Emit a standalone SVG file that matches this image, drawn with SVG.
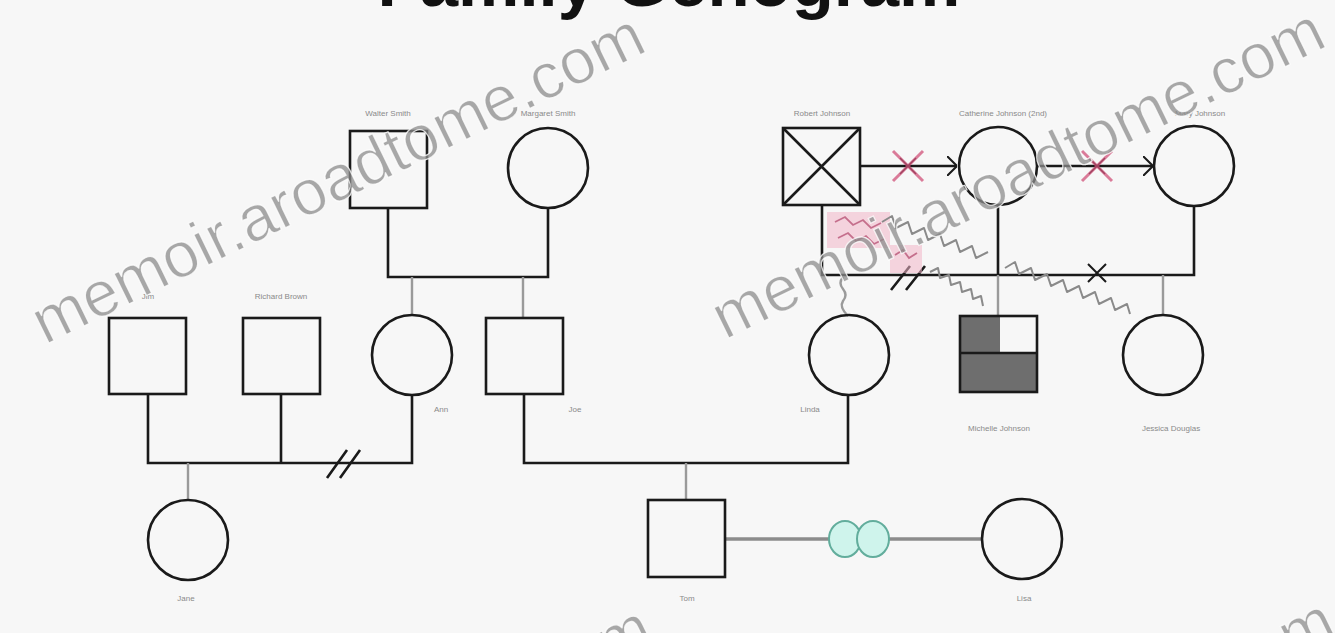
<svg xmlns="http://www.w3.org/2000/svg" width="1335" height="633" viewBox="0 0 1335 633">
  <defs>
    <style>
      .node { fill: none; stroke: #1a1a1a; stroke-width: 2.6; }
      .rel { fill: none; stroke: #1a1a1a; stroke-width: 2.6; }
      .child { fill: none; stroke: #9a9a9a; stroke-width: 2.4; }
      .hostile { fill: none; stroke: #8a8a8a; stroke-width: 2; stroke-linejoin: round; }
      .cut { fill: none; stroke: #d0527a; stroke-width: 3; stroke-opacity: 0.75; }
      .lbl { font-family: "Liberation Sans", Arial, sans-serif; font-size: 8px; fill: #8a8a8a; text-anchor: middle; }
      .title { font-family: "Liberation Sans", Arial, sans-serif; font-size: 69px; font-weight: bold; fill: #111; text-anchor: middle; }
      .wm { font-family: "Liberation Sans", Arial, sans-serif; font-size: 64px; fill: #8c8c8c; fill-opacity: 0.75; stroke: #ffffff; stroke-width: 1.2; stroke-opacity: 0.8; }
    </style>
    <marker id="chev" viewBox="0 0 10 20" refX="10" refY="10" markerWidth="10" markerHeight="20" markerUnits="userSpaceOnUse" orient="auto">
      <path d="M0,0 L10,10 L0,20" fill="none" stroke="#1a1a1a" stroke-width="2"/>
    </marker>
  </defs>

  <rect width="1335" height="633" fill="#f7f7f7"/>

  <!-- title, mostly above the top edge -->
  <text class="title" x="669" y="6">Family Genogram</text>

  <!-- connectors -->
  <g id="connectors">
    <!-- grandparents (left) -->
    <path class="rel" d="M388,208 V277 H548 V208"/>
    <path class="child" d="M412,277 V316 M523,277 V318"/>

    <!-- left couple with divorce -->
    <path class="rel" d="M148,394 V463 H412 V395 M281,394 V463"/>
    <path class="rel" d="M327,478 L347,450 M340,478 L360,450"/>
    <path class="child" d="M188,463 V500"/>

    <!-- parents of Tom -->
    <path class="rel" d="M524,394 V463 H848 V394"/>
    <path class="child" d="M686,463 V500"/>

    <!-- Tom and Lisa -->
    <path d="M725,539 H982" stroke="#8c8c8c" stroke-width="3.4" fill="none"/>
    <ellipse cx="845" cy="539" rx="16" ry="18" fill="#cff4ec" stroke="#62ad9c" stroke-width="2"/>
    <ellipse cx="873" cy="539" rx="16" ry="18" fill="#cff4ec" stroke="#62ad9c" stroke-width="2"/>

    <!-- top right relationships -->
    <path class="rel" d="M860,166 H957" marker-end="url(#chev)"/>
    <path class="rel" d="M1037,166 H1153" marker-end="url(#chev)"/>
    <path d="M900,158 L916,174 M900,174 L916,158" stroke="#1a1a1a" stroke-width="1.5"/>
    <path class="cut" d="M893,151 L923,181 M893,181 L923,151"/>
    <path d="M1089,158 L1105,174 M1089,174 L1105,158" stroke="#1a1a1a" stroke-width="1.5"/>
    <path class="cut" d="M1082,151 L1112,181 M1082,181 L1112,151"/>

    <!-- family line on the right -->
    <path class="rel" d="M822,205 V275 H1194 V205 M998,205 V275"/>
    <path class="child" d="M998,275 V316 M1163,275 V316"/>
    <path class="child" d="M843,277 q-5,6 0,12 q5,6 0,12 q-4,6 5,15"/>
    <path class="rel" d="M891,290 L910,266 M906,290 L925,266"/>
    <path d="M1088,264 L1106,282 M1088,282 L1106,264" stroke="#1a1a1a" stroke-width="2"/>

    <!-- pink highlighted region -->
    <rect x="827" y="212" width="63" height="36" fill="#f3b6c9" fill-opacity="0.55"/>
    <rect x="890" y="245" width="32" height="28" fill="#f3b6c9" fill-opacity="0.55"/>
    <path d="M835,222 l10,-5 l8,8 l10,-5 l8,8 l10,-5 M838,238 l10,-5 l8,8 l10,-5 l8,8 l10,-5 M895,255 l8,-5 l6,8 l8,-5" fill="none" stroke="#b0456a" stroke-width="1.8" stroke-opacity="0.7"/>

    <!-- hostile (zigzag) lines -->
    <path class="hostile" d="M882,222 l10,-6 l4,12 l12,-6 l4,12 l12,-6 l4,12 l12,-6 l4,12 l12,-6 l4,12 l12,-6 l4,12 l12,-6"/>
    <path class="hostile" d="M930,272 l8,-4 l2,10 l9,-3 l2,10 l9,-3 l2,10 l9,-3 l2,10 l8,-3 l2,10"/>
    <path class="hostile" d="M1005,268 l10,-6 l4,12 l12,-6 l4,12 l12,-6 l4,12 l12,-6 l4,12 l12,-6 l4,12 l12,-6 l4,12 l12,-6 l4,12 l12,-6 l3,10"/>
  </g>

  <!-- generation 1 -->
  <g id="grandfather-left">
    <rect class="node" x="350" y="131" width="77" height="77"/>
    <text class="lbl" x="388" y="116">Walter Smith</text>
  </g>
  <g id="grandmother-left">
    <circle class="node" cx="548" cy="168" r="40"/>
    <text class="lbl" x="548" y="116">Margaret Smith</text>
  </g>
  <g id="grandfather-right">
    <rect class="node" x="783" y="128" width="77" height="77"/>
    <path class="node" d="M783,128 L860,205 M860,128 L783,205"/>
    <text class="lbl" x="822" y="116">Robert Johnson</text>
  </g>
  <g id="grandmother-right">
    <circle class="node" cx="998" cy="166" r="39"/>
    <text class="lbl" x="1003" y="116">Catherine Johnson (2nd)</text>
  </g>
  <g id="third-wife">
    <circle class="node" cx="1194" cy="166" r="40"/>
    <text class="lbl" x="1200" y="116">Mary Johnson</text>
  </g>

  <!-- generation 2 -->
  <g id="jim">
    <rect class="node" x="109" y="318" width="77" height="76"/>
    <text class="lbl" x="148" y="299">Jim</text>
  </g>
  <g id="richard">
    <rect class="node" x="243" y="318" width="77" height="76"/>
    <text class="lbl" x="281" y="299">Richard Brown</text>
  </g>
  <g id="ann">
    <circle class="node" cx="412" cy="355" r="40"/>
    <text class="lbl" x="441" y="412">Ann</text>
  </g>
  <g id="joe">
    <rect class="node" x="486" y="318" width="77" height="76"/>
    <text class="lbl" x="575" y="412">Joe</text>
  </g>
  <g id="linda">
    <circle class="node" cx="849" cy="355" r="40"/>
    <text class="lbl" x="810" y="412">Linda</text>
  </g>
  <g id="michelle">
    <rect x="960" y="316" width="40" height="37" fill="#6e6e6e"/>
    <rect x="960" y="353" width="77" height="39" fill="#6e6e6e"/>
    <rect class="node" x="960" y="316" width="77" height="76"/>
    <path class="node" d="M960,353 H1037"/>
    <text class="lbl" x="999" y="431">Michelle Johnson</text>
  </g>
  <g id="jessica">
    <circle class="node" cx="1163" cy="355" r="40"/>
    <text class="lbl" x="1171" y="431">Jessica Douglas</text>
  </g>

  <!-- generation 3 -->
  <g id="jane">
    <circle class="node" cx="188" cy="540" r="40"/>
    <text class="lbl" x="186" y="601">Jane</text>
  </g>
  <g id="tom">
    <rect class="node" x="648" y="500" width="77" height="77"/>
    <text class="lbl" x="687" y="601">Tom</text>
  </g>
  <g id="lisa">
    <circle class="node" cx="1022" cy="539" r="40"/>
    <text class="lbl" x="1024" y="601">Lisa</text>
  </g>

  <!-- watermark text -->
  <g id="watermark">
    <text class="wm" x="45" y="345" transform="rotate(-26 45 345)">memoir.aroadtome.com</text>
    <text class="wm" x="725" y="340" transform="rotate(-26 725 340)">memoir.aroadtome.com</text>
    <text class="wm" x="52" y="937" transform="rotate(-26 52 937)">memoir.aroadtome.com</text>
    <text class="wm" x="735" y="930" transform="rotate(-26 735 930)">memoir.aroadtome.com</text>
  </g>
</svg>
